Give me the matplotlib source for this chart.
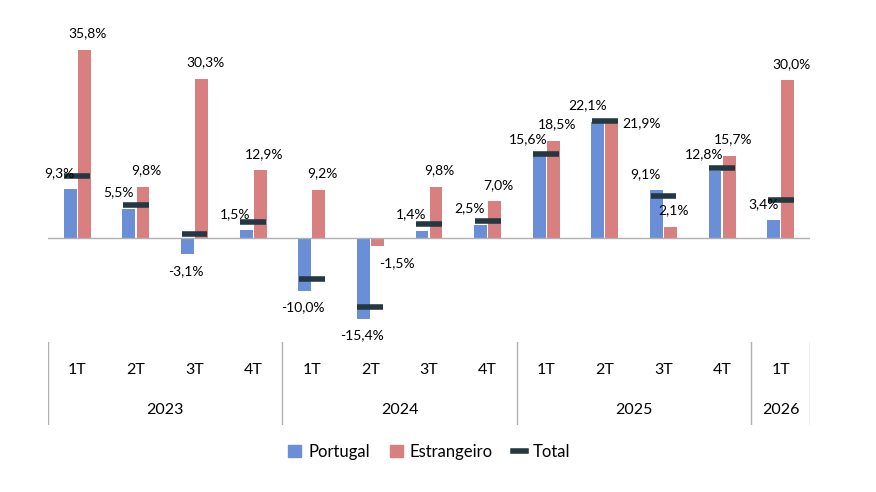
import matplotlib
matplotlib.use("Agg")
import matplotlib.pyplot as plt
from matplotlib.lines import Line2D
from matplotlib.patches import Patch

plt.rcParams['font.family'] = ['Lato', 'DejaVu Sans']

quarters = ['1T', '2T', '3T', '4T', '1T', '2T', '3T', '4T', '1T', '2T', '3T', '4T', '1T']
years = ['2023', '2024', '2025', '2026']
year_sizes = [4, 4, 4, 1]
portugal = [9.3, 5.5, -3.1, 1.5, -10.0, -15.4, 1.4, 2.5, 15.6, 22.1, 9.1, 12.8, 3.4]
estrangeiro = [35.8, 9.8, 30.3, 12.9, 9.2, -1.5, 9.8, 7.0, 18.5, 21.9, 2.1, 15.7, 30.0]
total = [11.8, 6.3, 0.8, 3.0, -7.8, -13.1, 2.7, 3.2, 16.0, 22.3, 8.0, 13.3, 7.2]

c_pt = '#6b8fd6'
c_es = '#d87f7f'
c_tot = '#243842'

W, H = 876, 492
fig = plt.figure(figsize=(W / 100, H / 100), dpi=100)
x0, x1 = 48 / W, 810 / W
ax = fig.add_axes([x0, (H - 340) / H, x1 - x0, 320 / H])
n = len(quarters)
bw = 0.22
xs = list(range(n))
ax.bar([x - 0.12 for x in xs], portugal, bw, color=c_pt)
ax.bar([x + 0.12 for x in xs], estrangeiro, bw, color=c_es)
for x, t in zip(xs, total):
    ax.plot([x - 0.22, x + 0.22], [t, t], color=c_tot, lw=4, solid_capstyle='butt')
ax.axhline(0, color='#b0b0b0', lw=1)
ax.set_xlim(-0.5, n - 0.5)
ax.set_ylim(-19.4, 41.5)
ax.axis('off')

fmt = lambda v: f"{v:.1f}%".replace('.', ',')
for x, p, e in zip(xs, portugal, estrangeiro):
    if p >= 0:
        ax.text(x - 0.3, max(p, 0) + 2.0, fmt(p), ha='center', va='bottom', fontsize=10)
    else:
        ax.text(x - 0.15, p - 2.0, fmt(p), ha='center', va='top', fontsize=10)
    if x == 9:
        ax.text(x + 0.62, e, fmt(e), ha='center', va='center', fontsize=10)
    elif e >= 0:
        ax.text(x + 0.18, e + 2.0, fmt(e), ha='center', va='bottom', fontsize=10)
    else:
        ax.text(x + 0.45, e - 4.5, fmt(e), ha='center', va='bottom', fontsize=10)

# category table
tab = fig.add_axes([x0, (H - 425) / H, x1 - x0, 83 / H])
tab.set_xlim(-0.5, n - 0.5)
tab.set_ylim(0, 1)
tab.axis('off')
start = -0.5
tab.plot([start, start], [0, 1], color='#b0b0b0', lw=1)
for yr, sz in zip(years, year_sizes):
    end = start + sz
    tab.plot([end, end], [0, 1], color='#b0b0b0', lw=1)
    tab.text((start + end) / 2, 0.18, yr, ha='center', va='center', fontsize=11.5)
    start = end
for x, q in zip(xs, quarters):
    tab.text(x, 0.66, q, ha='center', va='center', fontsize=11.5)

handles = [Patch(color=c_pt), Patch(color=c_es), Line2D([], [], color=c_tot, lw=4)]
fig.legend(handles, ['Portugal', 'Estrangeiro', 'Total'], loc='center',
           bbox_to_anchor=(0.49, (H - 452) / H), ncol=3, frameon=False, fontsize=12,
           handlelength=0.8, handletextpad=0.4, columnspacing=1.2)

fig.savefig('out.png', dpi=100)
